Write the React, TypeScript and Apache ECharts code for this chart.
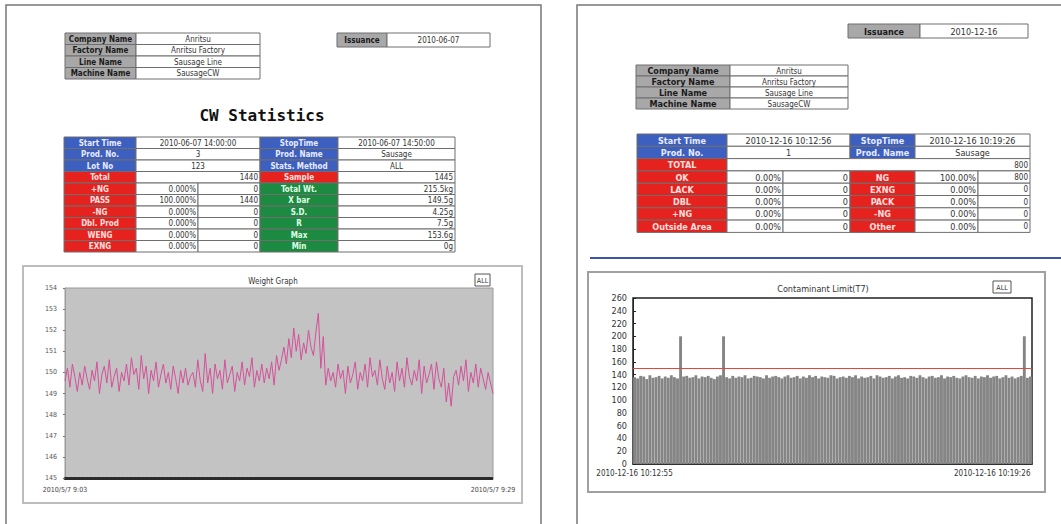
import React, { useEffect, useRef } from "react";
import * as echarts from "echarts";

// ---------- DATA ----------
const weights = [
  149.6,150.2,149.3,150.4,149.8,149.1,150.0,149.4,150.3,149.7,
  149.2,150.1,149.6,150.5,149.0,149.9,150.3,149.5,150.6,149.3,
  149.8,150.2,149.1,150.0,149.6,150.4,149.4,150.7,149.9,150.2,
  149.2,150.8,149.7,150.3,149.0,150.1,149.6,150.5,149.3,149.9,
  150.4,149.5,150.0,149.2,150.3,149.7,149.0,150.1,149.5,150.2,
  149.4,149.8,150.0,149.3,150.6,149.6,149.1,150.9,149.5,150.2,
  149.0,150.4,149.7,150.1,149.2,150.6,149.5,149.9,150.3,149.1,
  150.0,149.6,150.5,149.4,150.2,149.8,150.7,149.3,150.1,149.6,
  150.4,149.5,150.2,149.7,150.5,149.4,150.8,150.1,150.6,151.2,
  150.4,151.6,150.7,152.1,151.0,151.8,150.6,151.4,150.9,152.0,
  151.2,150.8,151.9,152.8,150.2,151.7,149.4,150.2,149.6,150.0,
  149.3,150.4,149.7,150.1,149.0,150.3,149.5,149.9,150.5,149.2,
  150.0,149.6,150.4,149.3,150.7,149.8,150.1,149.4,150.6,149.7,
  149.2,150.3,149.5,150.0,149.1,150.5,149.6,150.2,149.3,150.7,
  149.8,149.4,150.1,149.6,150.6,149.0,150.3,149.5,149.9,150.4,
  149.2,150.5,149.7,149.3,150.2,148.6,149.5,148.4,149.8,150.1,
  149.4,150.3,149.6,150.6,149.1,150.0,149.5,150.4,149.3,150.2,
  149.7,149.2,150.0,149.5,149.0,
];
const weightXLabels = ["2010/5/7 9:03", "2010/5/7 9:29"];
const weightYMin = 145;
const weightYMax = 154;

const contam = [
  136,134,138,137,133,139,135,136,138,134,
  137,135,139,136,134,200,137,138,135,136,
  139,134,137,136,138,135,133,137,139,200,
  136,134,138,135,137,136,139,134,135,138,
  137,136,134,139,135,137,138,136,134,137,
  139,135,136,138,134,137,135,139,136,138,
  134,137,136,135,139,138,134,136,137,135,
  138,136,139,134,137,135,136,138,134,139,
  137,135,136,138,134,137,139,135,136,134,
  138,137,135,139,136,134,137,138,135,136,
  139,134,137,136,138,135,134,137,139,136,
  135,138,134,137,136,139,135,137,138,134,
  136,139,135,137,134,136,138,200,135,137,
];
const contamXLabels = ["2010-12-16 10:12:55", "2010-12-16 10:19:26"];
const contamLimit = 150;
const contamYMax = 260;

const headerLabels = ["Company Name", "Factory Name", "Line Name", "Machine Name"];
const headerValues = ["Anritsu", "Anritsu Factory", "Sausage Line", "SausageCW"];

const leftIssuance = "2010-06-07";
const rightIssuance = "2010-12-16";

// Left stats table
const lInfoL1 = ["Start Time", "Prod. No.", "Lot No"];
const lInfoV1 = ["2010-06-07 14:00:00", "3", "123"];
const lInfoL2 = ["StopTime", "Prod. Name", "Stats. Method"];
const lInfoV2 = ["2010-06-07 14:50:00", "Sausage", "ALL"];
const lTotal = ["Total", "1440", "Sample", "1445"];
const lCountLabels = ["+NG", "PASS", "-NG", "Dbl. Prod", "WENG", "EXNG"];
const lCountPct = ["0.000%", "100.000%", "0.000%", "0.000%", "0.000%", "0.000%"];
const lCountNum = ["0", "1440", "0", "0", "0", "0"];
const lStatLabels = ["Total Wt.", "X bar", "S.D.", "R", "Max", "Min"];
const lStatValues = ["215.5kg", "149.5g", "4.25g", "7.5g", "153.6g", "0g"];

// Right stats table
const rInfoL1 = ["Start Time", "Prod. No."];
const rInfoV1 = ["2010-12-16 10:12:56", "1"];
const rInfoL2 = ["StopTime", "Prod. Name"];
const rInfoV2 = ["2010-12-16 10:19:26", "Sausage"];
const rTotal = ["TOTAL", "800"];
const rL1 = ["OK", "LACK", "DBL", "+NG", "Outside Area"];
const rP1 = ["0.00%", "0.00%", "0.00%", "0.00%", "0.00%"];
const rN1 = ["0", "0", "0", "0", "0"];
const rL2 = ["NG", "EXNG", "PACK", "-NG", "Other"];
const rP2 = ["100.00%", "0.00%", "0.00%", "0.00%", "0.00%"];
const rN2 = ["800", "0", "0", "0", "0"];

// ---------- STYLE ----------
const FONT = "'DejaVu Sans Condensed', 'DejaVu Sans', sans-serif";
const BLUE = "#3d5fbf";
const RED = "#e5221d";
const GREEN = "#1c8a40";
const GRAY = "#a8a8a8";

type El = any;

function cell(
  els: El[], x: number, y: number, w: number, h: number, fill: string,
  txt: string, color: string, align: "left" | "center" | "right", bold: boolean, fs: number
) {
  els.push({
    type: "rect", z: 5, shape: { x, y, width: w, height: h },
    style: { fill, stroke: "#6e6e6e", lineWidth: 1 },
  });
  if (txt) {
    const tx = align === "left" ? x + 2 : align === "right" ? x + w - 2 : x + w / 2;
    els.push({
      type: "text", z: 6, x: tx, y: y + h / 2 + 0.5,
      style: {
        text: txt, fill: color, fontSize: fs, fontWeight: bold ? "bold" : "normal",
        fontFamily: FONT, textAlign: align, textVerticalAlign: "middle",
      },
    });
  }
}

function buildGraphics(): El[] {
  const els: El[] = [];
  // page borders
  els.push({ type: "polyline", z: 1, shape: { points: [[6, 524], [6, 5], [541, 5], [541, 524]] }, style: { stroke: "#777", lineWidth: 1.5, fill: null } });
  els.push({ type: "polyline", z: 1, shape: { points: [[577, 524], [577, 5], [1061, 5]] }, style: { stroke: "#777", lineWidth: 1.5, fill: null } });

  // ---- LEFT PAGE ----
  const lh = 11.5;
  headerLabels.forEach((lab, i) => {
    cell(els, 65, 33 + i * lh, 71, lh, GRAY, lab, "#1a1a1a", "center", true, 8);
    cell(els, 136, 33 + i * lh, 124, lh, "#fff", headerValues[i], "#333", "center", false, 8);
  });
  cell(els, 337, 33, 50, 14, GRAY, "Issuance", "#1a1a1a", "center", true, 8);
  cell(els, 387, 33, 103, 14, "#fff", leftIssuance, "#333", "center", false, 8);

  els.push({
    type: "text", z: 6, x: 262, y: 115,
    style: { text: "CW Statistics", fill: "#111", fontSize: 16, fontWeight: "bold", fontFamily: "'DejaVu Sans Mono', monospace", textAlign: "center", textVerticalAlign: "middle" },
  });

  const sy = 137, rh = 11.5;
  for (let i = 0; i < 3; i++) {
    const y = sy + i * rh;
    cell(els, 64, y, 72, rh, BLUE, lInfoL1[i], "#e8ecff", "center", true, 8);
    cell(els, 136, y, 124, rh, "#fff", lInfoV1[i], "#333", "center", false, 8);
    cell(els, 260, y, 78, rh, BLUE, lInfoL2[i], "#e8ecff", "center", true, 8);
    cell(els, 338, y, 117, rh, "#fff", lInfoV2[i], "#333", "center", false, 8);
  }
  {
    const y = sy + 3 * rh;
    cell(els, 64, y, 72, rh, RED, lTotal[0], "#ffe0e0", "center", true, 8);
    cell(els, 136, y, 124, rh, "#fff", lTotal[1], "#333", "right", false, 8);
    cell(els, 260, y, 78, rh, RED, lTotal[2], "#ffe0e0", "center", true, 8);
    cell(els, 338, y, 117, rh, "#fff", lTotal[3], "#333", "right", false, 8);
  }
  for (let i = 0; i < 6; i++) {
    const y = sy + (4 + i) * rh;
    cell(els, 64, y, 72, rh, RED, lCountLabels[i], "#ffe0e0", "center", true, 8);
    cell(els, 136, y, 62, rh, "#fff", lCountPct[i], "#333", "right", false, 8);
    cell(els, 198, y, 62, rh, "#fff", lCountNum[i], "#333", "right", false, 8);
    cell(els, 260, y, 78, rh, GREEN, lStatLabels[i], "#e0ffe8", "center", true, 8);
    cell(els, 338, y, 117, rh, "#fff", lStatValues[i], "#333", "right", false, 8);
  }

  // left chart panel
  els.push({ type: "rect", z: -5, shape: { x: 23, y: 266, width: 499, height: 237 }, style: { fill: "#fff", stroke: "#bdbdbd", lineWidth: 2 } });
  els.push({ type: "text", z: 6, x: 273, y: 281, style: { text: "Weight Graph", fill: "#333", fontSize: 8, fontFamily: FONT, textAlign: "center", textVerticalAlign: "middle" } });
  els.push({ type: "rect", z: 5, shape: { x: 475, y: 274, width: 15, height: 12 }, style: { fill: "#fff", stroke: "#555", lineWidth: 1 } });
  els.push({ type: "text", z: 6, x: 482.5, y: 280.5, style: { text: "ALL", fill: "#333", fontSize: 7, fontFamily: FONT, textAlign: "center", textVerticalAlign: "middle" } });

  // ---- RIGHT PAGE ----
  cell(els, 848, 24, 72, 14, GRAY, "Issuance", "#1a1a1a", "center", true, 9);
  cell(els, 920, 24, 108, 14, "#fff", rightIssuance, "#333", "center", false, 9);
  const rhh = 11;
  headerLabels.forEach((lab, i) => {
    cell(els, 636, 65 + i * rhh, 94, rhh, GRAY, lab, "#1a1a1a", "center", true, 9);
    cell(els, 730, 65 + i * rhh, 118, rhh, "#fff", headerValues[i], "#333", "center", false, 8);
  });

  const ry = 134, rr = 12.3;
  for (let i = 0; i < 2; i++) {
    const y = ry + i * rr;
    cell(els, 637, y, 90, rr, BLUE, rInfoL1[i], "#e8ecff", "center", true, 9);
    cell(els, 727, y, 123, rr, "#fff", rInfoV1[i], "#333", "center", false, 9);
    cell(els, 850, y, 65, rr, BLUE, rInfoL2[i], "#e8ecff", "center", true, 9);
    cell(els, 915, y, 115, rr, "#fff", rInfoV2[i], "#333", "center", false, 9);
  }
  {
    const y = ry + 2 * rr;
    cell(els, 637, y, 90, rr, RED, rTotal[0], "#ffe0e0", "center", true, 9);
    cell(els, 727, y, 303, rr, "#fff", rTotal[1], "#333", "right", false, 8);
  }
  for (let i = 0; i < 5; i++) {
    const y = ry + (3 + i) * rr;
    cell(els, 637, y, 90, rr, RED, rL1[i], "#ffe0e0", "center", true, 9);
    cell(els, 727, y, 56, rr, "#fff", rP1[i], "#333", "right", false, 9);
    cell(els, 783, y, 67, rr, "#fff", rN1[i], "#333", "right", false, 9);
    cell(els, 850, y, 65, rr, RED, rL2[i], "#ffe0e0", "center", true, 9);
    cell(els, 915, y, 63, rr, "#fff", rP2[i], "#333", "right", false, 9);
    cell(els, 978, y, 52, rr, "#fff", rN2[i], "#333", "right", false, 8);
  }
  // blue separator
  els.push({ type: "line", z: 3, shape: { x1: 590, y1: 258, x2: 1061, y2: 258 }, style: { stroke: "#3f56a8", lineWidth: 2 } });

  // right chart panel
  els.push({ type: "rect", z: -5, shape: { x: 588, y: 272, width: 457, height: 220 }, style: { fill: "#fff", stroke: "#a0a0a0", lineWidth: 2 } });
  els.push({ type: "text", z: 6, x: 823, y: 289, style: { text: "Contaminant Limit(T7)", fill: "#333", fontSize: 9, fontFamily: FONT, textAlign: "center", textVerticalAlign: "middle" } });
  els.push({ type: "rect", z: 5, shape: { x: 993, y: 281, width: 18, height: 12 }, style: { fill: "#fff", stroke: "#555", lineWidth: 1 } });
  els.push({ type: "text", z: 6, x: 1002, y: 287.5, style: { text: "ALL", fill: "#333", fontSize: 7, fontFamily: FONT, textAlign: "center", textVerticalAlign: "middle" } });
  return els;
}

export default function App() {
  const ref = useRef<HTMLDivElement>(null);
  useEffect(() => {
    if (!ref.current) return;
    const chart = echarts.init(ref.current, undefined, { renderer: "svg" });
    const wLast = weights.length - 1;
    const cLast = contam.length - 1;
    chart.setOption({
      animation: false,
      backgroundColor: "#fff",
      textStyle: { fontFamily: FONT },
      graphic: { elements: buildGraphics() },
      grid: [
        { left: 65, top: 288, width: 428, height: 190, show: true, backgroundColor: "#c3c3c3", borderColor: "#9a9a9a", borderWidth: 1 },
        { left: 633, top: 298, width: 399, height: 166, show: true, backgroundColor: "#fff", borderColor: "#222", borderWidth: 1.5 },
      ],
      xAxis: [
        {
          gridIndex: 0, type: "category", boundaryGap: false,
          data: weights.map((_, i) => String(i)),
          axisTick: { show: false },
          axisLine: { lineStyle: { color: "#2a2a2a", width: 3, type: [3, 1] } },
          axisLabel: {
            interval: (i: number) => i === 0 || i === wLast,
            formatter: (_v: string, i: number) => (i === 0 ? weightXLabels[0] : weightXLabels[1]),
            fontSize: 7, color: "#444", margin: 8,
          },
        },
        {
          gridIndex: 1, type: "category", boundaryGap: true,
          data: contam.map((_, i) => String(i)),
          axisTick: { show: false },
          axisLine: { lineStyle: { color: "#222", width: 1.5 } },
          axisLabel: {
            interval: (i: number) => i === 0 || i === cLast,
            formatter: (_v: string, i: number) => (i === 0 ? contamXLabels[0] : contamXLabels[1]),
            fontSize: 8, color: "#333", margin: 5, alignMaxLabel: "right",
          },
        },
      ],
      yAxis: [
        {
          gridIndex: 0, type: "value", min: weightYMin, max: weightYMax, interval: 1,
          axisLine: { show: true, lineStyle: { color: "#9a9a9a" } },
          axisTick: { show: true, length: 2, lineStyle: { color: "#777" } },
          splitLine: { show: false },
          axisLabel: { fontSize: 7, color: "#555", margin: 8 },
        },
        {
          gridIndex: 1, type: "value", min: 0, max: contamYMax, interval: 20,
          axisLine: { show: true, lineStyle: { color: "#222" } },
          axisTick: { show: true, inside: true, length: 3, lineStyle: { color: "#222" } },
          splitLine: { show: false },
          axisLabel: { fontSize: 9, color: "#333", margin: 6 },
        },
      ],
      series: [
        {
          type: "line", xAxisIndex: 0, yAxisIndex: 0, data: weights,
          symbol: "none", lineStyle: { color: "#d4509a", width: 1 },
        },
        {
          type: "bar", xAxisIndex: 1, yAxisIndex: 1, data: contam,
          barCategoryGap: "6%",
          itemStyle: { color: "#858585" },
          markLine: {
            symbol: "none", silent: true, label: { show: false },
            lineStyle: { color: "#e0483a", width: 1, type: "solid" },
            data: [{ yAxis: contamLimit }],
          },
        },
      ],
    });
    return () => chart.dispose();
  }, []);
  return (
    <div
      ref={ref}
      style={{ position: "absolute", left: 0, top: 0, width: 1061, height: 524 }}
    />
  );
}
